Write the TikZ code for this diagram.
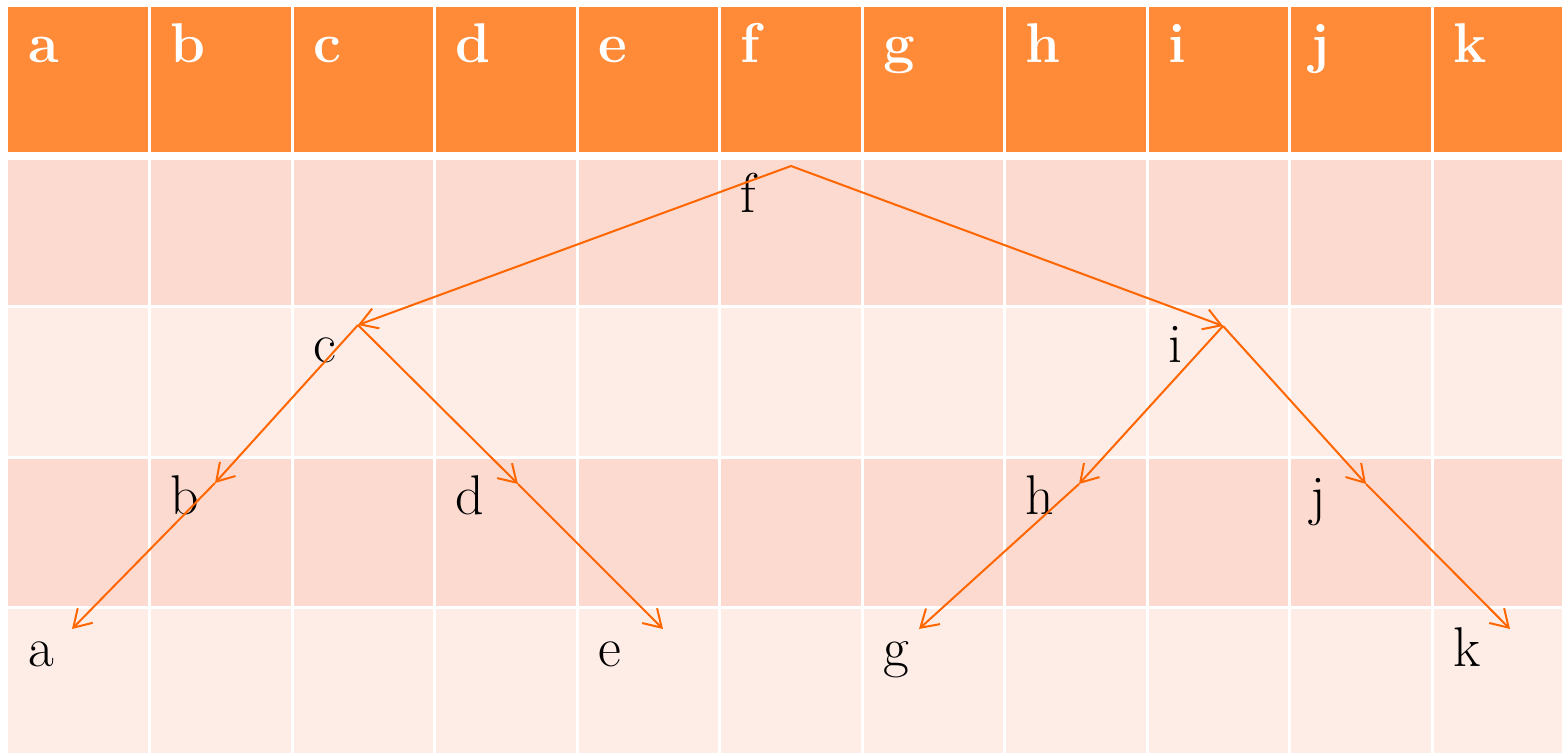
\documentclass[tikz,border=0pt]{standalone}
\usetikzlibrary{arrows.meta}
\definecolor{hdr}{RGB}{255,138,56}
\definecolor{rowA}{RGB}{253,218,207}
\definecolor{rowB}{RGB}{254,237,231}
\definecolor{arr}{RGB}{255,102,0}
\begin{document}
\begin{tikzpicture}[x=0.5pt,y=-0.5pt,
  hlabel/.style={anchor=base west, inner sep=0pt, outer sep=0pt, text=white, font=\fontsize{28}{30}\selectfont\bfseries},
  blabel/.style={anchor=base west, inner sep=0pt, outer sep=0pt, font=\fontsize{28}{30}\selectfont},
  edge/.style={draw=arr, line width=1pt, line join=miter, -{Straight Barb[length=8.5pt,width=10.5pt]}}]
\useasboundingbox (0,0) rectangle (1562,753);
\begin{scope}
\clip (0,0) rectangle (1562,753);
\foreach \i in {0,...,10} {
  \pgfmathsetmacro{\xl}{\i==0 ? 8 : 7+142.5*\i+1.5}
  \pgfmathsetmacro{\xr}{7+142.5*(\i+1)-1.5}
  \fill[hdr] (\xl,7) rectangle (\xr,152);
  \fill[rowA] (\xl,160) rectangle (\xr,305.5);
  \fill[rowB] (\xl,308.5) rectangle (\xr,456);
  \fill[rowA] (\xl,459) rectangle (\xr,605.5);
  \fill[rowB] (\xl,608.5) rectangle (\xr,760);
}
\end{scope}
% header labels
\foreach \l [count=\i from 0] in {a,b,c,d,e,f,g,h,i,j,k} {
  \node[hlabel] (h\l) at (28+142.5*\i,63) {\l};
}
% body labels
\node[blabel] (lf) at (740.5,213) {f};
\node[blabel] (lc) at (313,363) {c};
\node[blabel] (li) at (1168,363) {i};
\node[blabel] (lb) at (170.5,514) {b};
\node[blabel] (ld) at (455.5,514) {d};
\node[blabel] (lh) at (1025.5,514) {h};
\node[blabel] (lj) at (1310.5,514) {j};
\node[blabel] (la) at (28,666) {a};
\node[blabel] (le) at (598,666) {e};
\node[blabel] (lg) at (883,666) {g};
\node[blabel] (lk) at (1453,666) {k};
% tree points
\coordinate (pf) at (791,166);
\coordinate (pc) at (358,325);
\coordinate (pi) at (1223,326);
\coordinate (pb) at (215,483);
\coordinate (pd) at (518,484);
\coordinate (ph) at (1079,484);
\coordinate (pj) at (1366,484);
\coordinate (pa) at (72,629);
\coordinate (pe) at (663,629);
\coordinate (pg) at (919,629);
\coordinate (pk) at (1510,629);
\draw[edge] (pf) -- (pc);
\draw[edge] (pf) -- (pi);
\draw[edge] (pc) -- (pb);
\draw[edge] (pc) -- (pd);
\draw[edge] (pb) -- (pa);
\draw[edge] (pd) -- (pe);
\draw[edge] (pi) -- (ph);
\draw[edge] (pi) -- (pj);
\draw[edge] (ph) -- (pg);
\draw[edge] (pj) -- (pk);
\end{tikzpicture}
\end{document}
